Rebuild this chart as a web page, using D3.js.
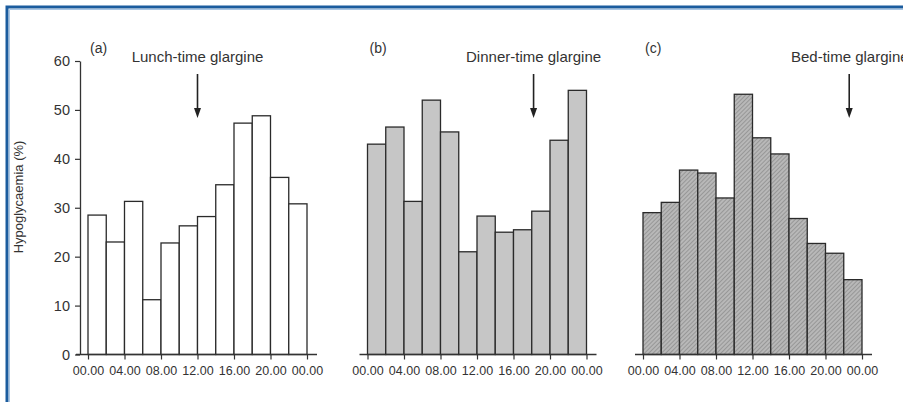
<!DOCTYPE html>
<html>
<head>
    <title>Hypoglycaemia by time of day</title>
    <script src="https://d3js.org/d3.v7.min.js"></script>
    <style>
        body { margin: 0; background: white; }
        svg { display: block; font-family: Arial, 'Liberation Sans', Helvetica, sans-serif; }
        .tick text { fill: #333; }
        .bar { stroke: #2a2a2a; stroke-width: 1.3px; }
    </style>
</head>
<body>
    <svg width="903" height="402"></svg>
    <script>
        // two-hour bins, start hour of each bar
        const binStarts = [0, 2, 4, 6, 8, 10, 12, 14, 16, 18, 20, 22];
        const tickHours = [0, 4, 8, 12, 16, 20, 24];
        const tickLabels = ["00.00", "04.00", "08.00", "12.00", "16.00", "20.00", "00.00"];
        const yTicks = [0, 10, 20, 30, 40, 50, 60];

        // % of patients with hypoglycaemia per bin
        const lunchValues = [28.5, 23.0, 31.3, 11.2, 22.8, 26.3, 28.2, 34.7, 47.3, 48.8, 36.2, 30.8];
        const dinnerValues = [43.0, 46.5, 31.3, 52.0, 45.5, 21.0, 28.3, 25.0, 25.5, 29.3, 43.8, 54.0];
        const bedValues = [29.0, 31.1, 37.7, 37.1, 32.0, 53.2, 44.3, 41.0, 27.8, 22.7, 20.7, 15.3];

        const panelTags = ["(a)", "(b)", "(c)"];
        const doseLabels = ["Lunch-time glargine", "Dinner-time glargine", "Bed-time glargine"];
        const doseHours = [12, 18.2, 22.6];

        const svg = d3.select("svg");

        // hatch for panel (c)
        const defs = svg.append("defs");
        const pat = defs.append("pattern")
            .attr("id", "hatch")
            .attr("patternUnits", "userSpaceOnUse")
            .attr("width", 3).attr("height", 3)
            .attr("patternTransform", "rotate(45)");
        pat.append("rect").attr("width", 3).attr("height", 3).attr("fill", "#b8b8b8");
        pat.append("line").attr("x1", 0).attr("y1", 0).attr("x2", 0).attr("y2", 3)
            .attr("stroke", "#808080").attr("stroke-width", 1.2);

        // frame
        svg.append("path")
            .attr("d", "M7,402 V7 H903")
            .attr("fill", "none")
            .attr("stroke", "#1b5c9e")
            .attr("stroke-width", 3);
        svg.append("path")
            .attr("d", "M9.5,402 V9.5 H903")
            .attr("fill", "none")
            .attr("stroke", "#a9c6e4")
            .attr("stroke-width", 1);

        const y = d3.scaleLinear().domain([0, 60]).range([354.5, 61]);

        const panels = [
            { left: 88, values: lunchValues, fill: "white" },
            { left: 367.5, values: dinnerValues, fill: "#c6c6c6" },
            { left: 643, values: bedValues, fill: "url(#hatch)" }
        ];

        panels.forEach((p, i) => {
            const x = d3.scaleLinear().domain([0, 24]).range([p.left, p.left + 219]);
            const g = svg.append("g");

            // bars
            g.selectAll("rect.bar")
                .data(binStarts.map((h, j) => ({ h, v: p.values[j] })))
                .enter().append("rect")
                .attr("class", "bar")
                .attr("x", d => x(d.h))
                .attr("y", d => y(d.v))
                .attr("width", d => x(d.h + 2) - x(d.h))
                .attr("height", d => y(0) - y(d.v))
                .attr("fill", p.fill);

            // x axis
            const xAxis = d3.axisBottom(x)
                .tickValues(tickHours)
                .tickFormat((d, k) => tickLabels[k])
                .tickSize(5)
                .tickPadding(7);
            const ax = g.append("g")
                .attr("transform", `translate(0,${y(0)})`)
                .call(xAxis);
            ax.select(".domain").remove();
            ax.append("line")
                .attr("x1", i === 0 ? 76 : x(0) - 8)
                .attr("x2", x(24) + 10)
                .attr("stroke", "#333").attr("stroke-width", 1.3);
            ax.selectAll(".tick line").attr("stroke", "#333").attr("stroke-width", 1.2);
            ax.selectAll(".tick text").attr("font-size", 12.5).attr("font-family", "Arial, 'Liberation Sans', sans-serif");

            // y axis only on first panel
            if (i === 0) {
                const yAxis = d3.axisLeft(y).tickValues(yTicks).tickSize(5).tickPadding(5).tickSizeOuter(0);
                const ay = g.append("g")
                    .attr("transform", "translate(80,0)")
                    .call(yAxis);
                ay.select(".domain").attr("stroke", "#333").attr("stroke-width", 1.3);
                ay.selectAll(".tick line").attr("stroke", "#333").attr("stroke-width", 1.2);
                ay.selectAll(".tick text").attr("font-size", 14.5).attr("font-family", "Arial, 'Liberation Sans', sans-serif");
            }

            // panel tag
            g.append("text")
                .attr("x", x(0) + 2)
                .attr("y", 53)
                .attr("font-size", 14)
                .attr("fill", "#333")
                .text(panelTags[i]);

            // dosing label and arrow
            const ax0 = x(doseHours[i]);
            g.append("text")
                .attr("x", i === 2 ? 791 : ax0)
                .attr("y", 62)
                .attr("text-anchor", i === 2 ? "start" : "middle")
                .attr("font-size", 15)
                .attr("fill", "#333")
                .text(doseLabels[i]);
            g.append("line")
                .attr("x1", ax0).attr("x2", ax0)
                .attr("y1", 74).attr("y2", 110)
                .attr("stroke", "#222").attr("stroke-width", 1.6);
            g.append("path")
                .attr("d", `M${ax0 - 3.5},${108} L${ax0 + 3.5},${108} L${ax0},${118} Z`)
                .attr("fill", "#222");
        });

        // y-axis title
        svg.append("text")
            .attr("transform", "translate(23,197) rotate(-90)")
            .attr("text-anchor", "middle")
            .attr("font-size", 13)
            .attr("fill", "#333")
            .text("Hypoglycaemia (%)");
    </script>
</body>
</html>
